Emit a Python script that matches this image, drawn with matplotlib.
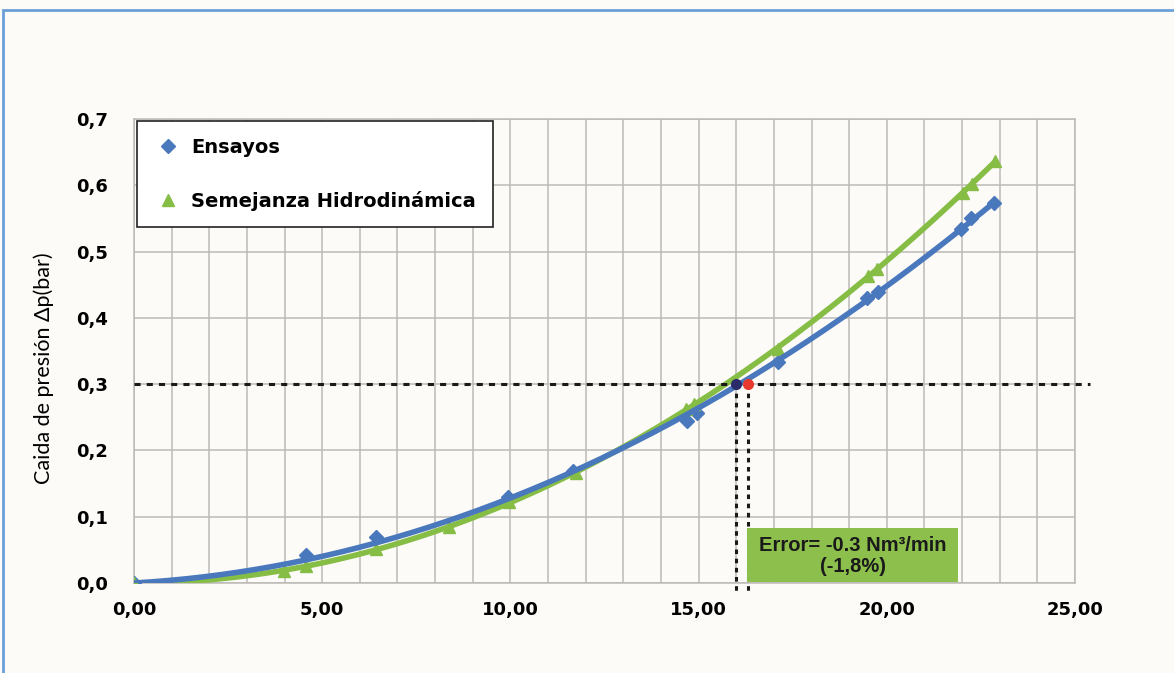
import numpy as np
import matplotlib.pyplot as plt
from matplotlib.patches import Rectangle
from matplotlib.ticker import MultipleLocator

# Datos
ensayos_x = [0.0, 4.57, 6.43, 9.94, 11.66, 14.69, 14.96, 17.11, 19.47, 19.77, 21.97, 22.24, 22.85]
ensayos_y = [0.0, 0.042, 0.069, 0.130, 0.169, 0.244, 0.256, 0.333, 0.430, 0.439, 0.534, 0.551, 0.573]

semejanza_x = [0.0, 3.98, 4.57, 6.43, 8.37, 9.96, 11.74, 14.67, 14.88, 17.11, 19.50, 19.74, 22.02, 22.26, 22.87]
semejanza_y = [0.0, 0.018, 0.026, 0.051, 0.084, 0.122, 0.166, 0.262, 0.270, 0.353, 0.463, 0.474, 0.588, 0.602, 0.636]

x_ticks = [0, 5, 10, 15, 20, 25]
x_labels = ['0,00', '5,00', '10,00', '15,00', '20,00', '25,00']
y_ticks = [0.0, 0.1, 0.2, 0.3, 0.4, 0.5, 0.6, 0.7]
y_labels = ['0,0', '0,1', '0,2', '0,3', '0,4', '0,5', '0,6', '0,7']

dp_ref = 0.3
q_ensayos = 16.0
q_semejanza = 16.3
error_text = 'Error= -0.3 Nm³/min\n(-1,8%)'

blue = '#4a78bd'
green = '#86bd45'
bg = '#fdfbf8'


def fit_origen(x, y):
    # trendline polinomica de 2o grado que pasa por el origen
    x = np.asarray(x)
    A = np.column_stack([x ** 2, x])
    a, b = np.linalg.lstsq(A, np.asarray(y), rcond=None)[0]
    return lambda t: a * t ** 2 + b * t


fig = plt.figure(figsize=(11.74, 6.73), dpi=100, facecolor=bg)
ax = fig.add_axes([134 / 1174, 90 / 673, 941 / 1174, 464 / 673])
ax.set_facecolor(bg)

# borde azul de la figura
fig.patches.append(Rectangle((3 / 1174, -0.1), 1.2, 1.1 - 10 / 673,
                             transform=fig.transFigure, fill=False,
                             edgecolor='#6a9fd8', linewidth=2, zorder=0))

f_e = fit_origen(ensayos_x, ensayos_y)
f_s = fit_origen(semejanza_x, semejanza_y)
xe = np.linspace(0, max(ensayos_x), 200)
xs = np.linspace(0, max(semejanza_x), 200)

ax.plot(ensayos_x, ensayos_y, 'D', color=blue, markersize=7, zorder=3,
        label='Ensayos')
ax.plot(semejanza_x, semejanza_y, '^', color=green, markersize=8, zorder=3,
        label='Semejanza Hidrodinámica')
ax.plot(xs, f_s(xs), color=green, linewidth=4, zorder=4)
ax.plot(xe, f_e(xe), color=blue, linewidth=4, zorder=5)

# lineas de referencia
ax.plot([0, 25.4], [dp_ref, dp_ref], color='#1a1a1a', linewidth=2.2,
        linestyle=(0, (2, 2)), clip_on=False, zorder=6)
for q in [q_ensayos, q_semejanza]:
    ax.plot([q, q], [dp_ref, -0.012], color='#1a1a1a', linewidth=2.2,
            linestyle=(0, (1.5, 1.5)), clip_on=False, zorder=6)
ax.plot(q_ensayos, dp_ref, 'o', color='#2b2a6b', markersize=7, zorder=7)
ax.plot(q_semejanza, dp_ref, 'o', color='#e8392c', markersize=7, zorder=7)

# cuadro de error
ax.add_patch(Rectangle((16.29, 0.0015), 5.6, 0.0815, facecolor='#8cbf4c',
                       edgecolor='none', zorder=6))
ax.text(16.29 + 2.8, 0.041, error_text, ha='center', va='center',
        fontsize=14.5, fontweight='bold', color='#1a1a1a',
        family='Liberation Sans', linespacing=1.1, zorder=7)

ax.set_xlim(0, 25)
ax.set_ylim(0, 0.7)
ax.set_xticks(x_ticks)
ax.set_xticklabels(x_labels, fontweight='bold', family='DejaVu Sans', fontsize=13)
ax.set_yticks(y_ticks)
ax.set_yticklabels(y_labels, fontweight='bold', family='DejaVu Sans', fontsize=13)
ax.xaxis.set_minor_locator(MultipleLocator(1))
ax.grid(True, which='both', axis='x', color='#bdbab6', linewidth=1.1)
ax.grid(True, which='major', axis='y', color='#bdbab6', linewidth=1.1)
ax.set_axisbelow(True)
ax.tick_params(which='both', length=0)
ax.tick_params(axis='x', pad=13)
ax.tick_params(axis='y', pad=19)
for s in ax.spines.values():
    s.set_color('#bdbab6')
    s.set_linewidth(1.1)

ax.set_ylabel('Caida de presión \u0394p(bar)', fontsize=15.5, family='Lato')
ax.yaxis.set_label_coords(-0.085, 0.463)

leg = ax.legend(loc='upper left', bbox_to_anchor=(0.003, 0.995),
                prop={'family': 'DejaVu Sans', 'weight': 'bold', 'size': 14},
                frameon=True, fancybox=False, edgecolor='#222222',
                framealpha=1, facecolor='white', borderpad=0.85,
                labelspacing=1.75, handletextpad=0.45, handlelength=1.5,
                borderaxespad=0)
leg.get_frame().set_linewidth(1.2)

fig.savefig('out.png', dpi=100, facecolor=bg)
